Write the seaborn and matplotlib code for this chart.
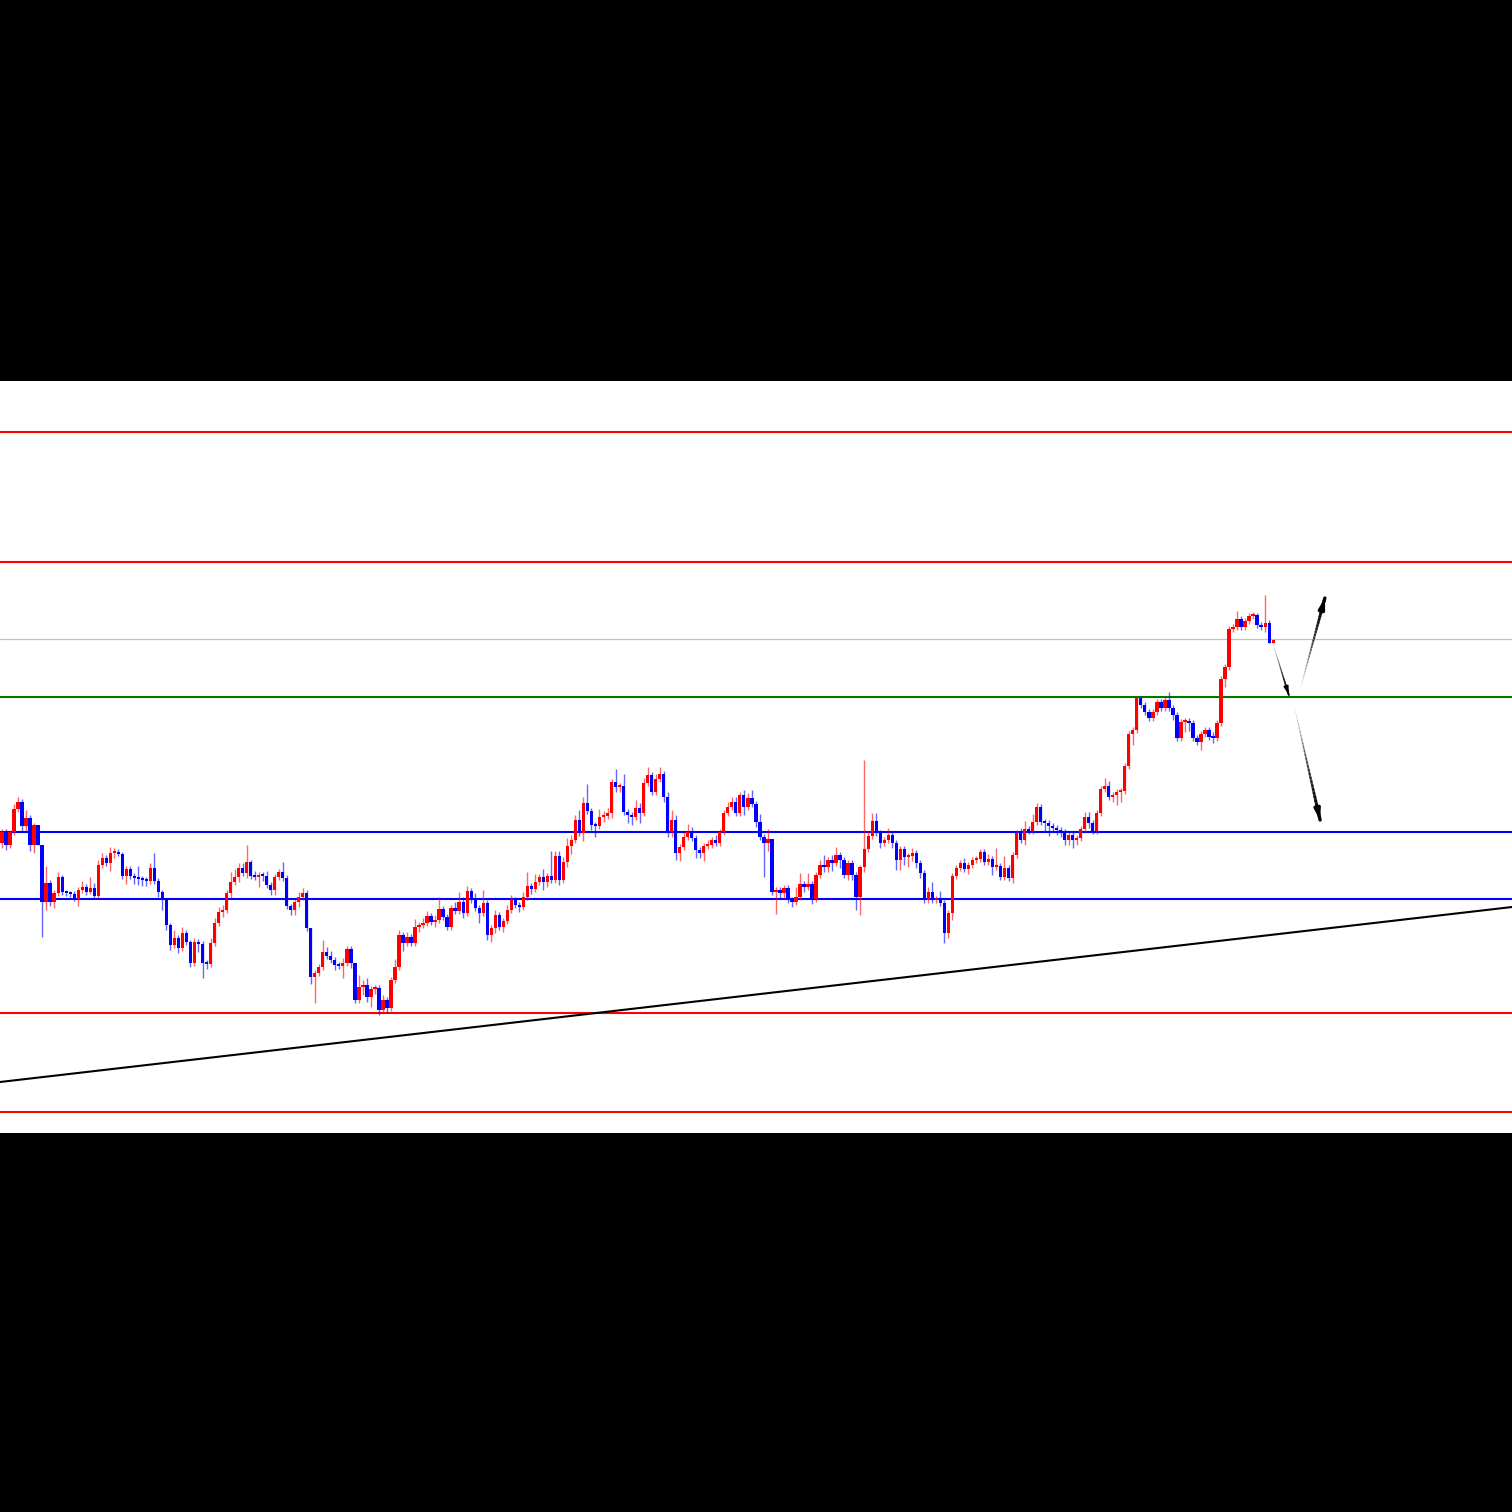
import numpy as np
import pandas as pd
import matplotlib
matplotlib.use("Agg")
import matplotlib.pyplot as plt
from matplotlib.collections import LineCollection
import seaborn as sns

# ---------------- data ----------------
first_open = 102.90
closes = [
    # segment A
    103.01, 102.88, 103.01, 103.24, 103.31, 103.07, 103.15, 102.88, 103.08, 102.88,
    102.31, 102.50, 102.31, 102.40, 102.56, 102.41, 102.40, 102.39, 102.34, 102.43,
    102.46, 102.41, 102.45, 102.37, 102.68, 102.75, 102.70, 102.80, 102.81, 102.79,
    102.57, 102.64, 102.57, 102.55, 102.54, 102.53, 102.52, 102.65, 102.52, 102.41,
    102.33, 102.08, 101.88, 101.95, 101.85, 102.00, 101.91, 101.70, 101.91, 101.89,
    101.70, 101.69, 101.90, 102.10,
    # segment B
    102.21, 102.23, 102.40, 102.51, 102.56, 102.65, 102.60, 102.71, 102.57, 102.56,
    102.58, 102.57, 102.48, 102.43, 102.56, 102.61, 102.55, 102.27, 102.23, 102.31,
    102.36, 102.40, 102.05, 101.56, 101.60, 101.66, 101.81, 101.77, 101.73, 101.68,
    101.67, 101.70, 101.84, 101.70, 101.33, 101.46, 101.48, 101.36, 101.44, 101.45,
    101.23, 101.33, 101.25, 101.53, 101.66, 101.98, 101.90, 101.96, 101.90, 102.06,
    # segment C
    102.08, 102.10, 102.17, 102.11, 102.13, 102.24, 102.16, 102.06, 102.25, 102.22,
    102.31, 102.20, 102.42, 102.35, 102.25, 102.20, 102.30, 101.98, 102.05, 102.18,
    102.06, 102.12, 102.23, 102.33, 102.28, 102.26, 102.36, 102.47, 102.44, 102.51,
    102.56, 102.51, 102.57, 102.53, 102.77, 102.53, 102.71, 102.87, 102.93, 103.13,
    103.00, 103.30, 103.22, 103.08, 103.07, 103.16, 103.17, 103.20, 103.51, 103.46,
    103.47, 103.21, 103.18,
    # segment D
    103.16, 103.25, 103.20, 103.50, 103.58, 103.41, 103.54, 103.59, 103.36, 103.01,
    103.13, 102.80, 102.86, 102.96, 103.01, 102.95, 102.83, 102.80, 102.87, 102.88,
    102.93, 102.90, 103.01, 103.20, 103.26, 103.31, 103.20, 103.38, 103.26, 103.35,
    103.29, 103.11, 102.96, 102.90, 102.94, 102.41, 102.43, 102.40, 102.45, 102.33,
    102.31, 102.36, 102.49, 102.46, 102.49, 102.34, 102.58, 102.68, 102.66, 102.73,
    102.70, 102.78, 102.73,
    # segment E
    102.58, 102.70, 102.58, 102.36, 102.66, 102.84, 102.97, 103.12, 103.00, 102.90,
    102.93, 102.98, 102.90, 102.73, 102.84, 102.76, 102.77, 102.80, 102.70, 102.60,
    102.33, 102.41, 102.33, 102.34, 102.30, 102.00, 102.20, 102.57, 102.65, 102.70,
    102.64, 102.68, 102.73, 102.74, 102.81, 102.71, 102.74, 102.66, 102.67, 102.56,
    102.65, 102.55, 102.78, 103.00, 102.93, 103.04, 103.02, 103.11, 103.26, 103.11,
    103.10, 103.07,
    # segment F
    103.05, 103.03, 103.01, 102.93, 102.98, 102.93, 102.95, 103.04, 103.16, 103.10,
    103.02, 103.20, 103.44, 103.47, 103.36, 103.38, 103.41, 103.42, 103.67, 103.99,
    104.03, 104.35, 104.28, 104.21, 104.15, 104.21, 104.31, 104.25, 104.33, 104.25,
    104.18, 103.95, 104.11, 104.12, 104.10, 103.95, 103.91, 103.99, 104.03, 103.96,
    103.95, 104.10, 104.54, 104.66, 105.04, 105.06, 105.14, 105.06, 105.12, 105.17,
    105.18, 105.08, 105.06, 105.10, 104.90, 104.93,
]

# shadows (in pips, 0.01)
upper_shadow = [
    3,3,2,5,5,3,8,3,2,0, 0,17,3,3,5,2,2,2,3,3, 6,3,11,5,5,5,3,6,4,3,
    2,3,3,3,12,3,3,5,15,3, 2,0,2,8,3,6,3,2,4,3, 3,3,5,5,
    5,5,3,10,8,5,5,17,2,5, 3,3,5,3,3,3,10,3,2,3, 5,5,3,0,3,3,12,5,5,3,
    3,5,3,3,0,12,5,7,3,3, 3,5,3,3,8,5,3,5,3,8,
    3,5,5,3,5,12,3,3,3,6, 10,5,5,3,5,3,13,3,3,5, 3,3,5,5,3,3,5,14,3,8,
    3,8,3,25,5,5,5,8,5,5, 10,6,19,3,3,8,5,5,3,13, 3,12,3,
    3,8,5,5,8,3,5,7,3,5, 10,5,3,5,8,5,3,3,3,5, 3,5,3,3,5,5,5,3,5,5,
    8,3,8,3,10,0,3,3,3,3, 3,10,11,3,11,3,3,5,10,3, 5,8,3,
    3,3,3,3,2,89,5,8,8,3, 3,7,3,3,3,3,3,5,3,3, 3,5,10,3,8,3,3,3,3,3,
    5,3,3,3,3,3,5,3,18,3, 12,3,3,3,5,8,3,8,4,3, 3,3,
    3,3,3,3,3,3,3,3,5,5, 3,3,3,8,5,3,3,3,3,3, 3,1,2,3,3,3,3,3,3,8,
    3,3,3,3,3,3,3,3,3,3, 5,3,3,3,3,3,8,3,3,3, 3,2,3,28,3,0,
]
lower_shadow = [
    5,5,3,3,3,5,5,6,8,0, 35,8,4,6,3,3,3,3,2,7, 3,3,2,3,2,3,3,8,5,2,
    3,8,3,6,6,6,5,3,3,5, 10,5,5,3,5,3,3,4,3,8, 15,5,3,3,
    3,5,3,5,3,5,3,5,3,3, 10,5,3,5,5,3,3,3,5,5, 5,3,3,7,26,3,3,3,3,5,
    3,12,3,5,3,3,8,5,10,5, 5,3,5,3,3,3,8,3,3,3,
    5,3,3,3,5,3,3,3,3,3, 3,5,3,5,3,10,3,5,7,5, 3,5,3,3,3,5,3,3,5,3,
    3,8,5,3,3,5,3,5,8,3, 3,8,3,5,11,3,5,3,5,5, 5,3,8,
    8,3,10,3,3,3,3,3,5,5, 5,7,8,3,3,3,8,5,8,3, 3,3,3,3,3,3,3,3,8,3,
    3,5,3,34,8,3,22,5,5,3, 5,3,3,5,3,5,3,3,5,5, 8,3,8,
    3,5,5,13,18,5,3,3,3,5, 3,3,5,10,10,8,10,5,5,5, 3,3,3,3,3,10,5,7,3,3,
    3,5,3,3,3,3,3,8,3,3, 3,3,5,3,3,5,3,3,3,3, 9,10,
    3,5,5,5,5,8,5,3,3,5, 3,3,3,3,3,5,10,10,3,3, 11,3,3,3,3,3,3,3,3,3,
    5,3,3,10,8,3,3,8,3,3, 5,3,3,8,3,3,3,3,3,3, 3,3,3,5,0,0,
]

red_levels = [107.01, 105.71, 101.20, 100.21]
gray_level = [104.94]
green_level = [104.36]
blue_levels = [103.01, 102.34]
trend_x = [-0.5, 376.6]
trend_y = [100.51, 102.26]

# scenario arrows (x in bar index, y in price)
arrow_x0 = [316.9, 323.7, 322.2]
arrow_y0 = [104.90, 104.43, 104.28]
arrow_x1 = [320.9, 329.9, 328.7]
arrow_y1 = [104.38, 105.35, 103.13]
arrow_w = [1.4, 2.4, 2.4]
arrow_hl = [0.35, 0.45, 0.45]
arrow_hw = [0.10, 0.13, 0.13]

# ---------------- build frame ----------------
n = len(closes)
opens = [first_open] + closes[:-1]
df = pd.DataFrame({"idx": np.arange(n), "open": opens, "close": closes,
                   "up": np.array(upper_shadow[:n]) / 100.0,
                   "lo": np.array(lower_shadow[:n]) / 100.0})
df["top"] = df[["open", "close"]].max(axis=1)
df["bot"] = df[["open", "close"]].min(axis=1)
df["high"] = df["top"] + df["up"]
df["low"] = df["bot"] - df["lo"]
df["bull"] = df["close"] >= df["open"]

sns.set_theme(style="white")
fig = plt.figure(figsize=(15.12, 15.12), dpi=100, facecolor="black")
ax = fig.add_axes([0, 379 / 1512, 1, 752 / 1512])
ax.set_facecolor("white")

RED = "#ff0000"
BLUE = "#0000ff"
colors = np.where(df["bull"], RED, BLUE)

# horizontal levels
for lv in red_levels:
    ax.axhline(lv, color=RED, lw=1.5, zorder=1)
for lv in gray_level:
    ax.axhline(lv, color="#c0c0c0", lw=0.9, zorder=1)
for lv in green_level:
    ax.axhline(lv, color="#007800", lw=1.5, zorder=1)
for lv in blue_levels:
    ax.axhline(lv, color=BLUE, lw=1.5, zorder=1)

sns.lineplot(x=trend_x, y=trend_y, ax=ax, color="black", lw=1.5, zorder=2)

# wicks
ax.vlines(df["idx"], df["low"], df["high"], colors=colors, lw=1.0, alpha=0.6, zorder=3)
# bodies
heights = np.maximum(df["top"] - df["bot"], 0.015)
ax.bar(df["idx"], heights, bottom=df["bot"], width=0.82, color=colors,
       edgecolor="none", zorder=4)

# gradient arrows
for x0, y0, x1, y1, w, hl, hw in zip(arrow_x0, arrow_y0, arrow_x1, arrow_y1,
                                     arrow_w, arrow_hl, arrow_hw):
    k = 30
    t = np.linspace(0, 1, k + 1)
    xs = x0 + (x1 - x0) * t
    ys = y0 + (y1 - y0) * t
    segs = [[(xs[i], ys[i]), (xs[i + 1], ys[i + 1])] for i in range(k)]
    alphas = np.linspace(0.05, 1.0, k)
    cols = [(0, 0, 0, a) for a in alphas]
    widths = np.linspace(0.4, w, k)
    ax.add_collection(LineCollection(segs, colors=cols, linewidths=widths, zorder=5,
                                     capstyle="round"))
    ax.annotate("", xy=(x1, y1), xytext=(xs[-4], ys[-4]),
                arrowprops=dict(arrowstyle=f"-|>,head_length={hl},head_width={hw}",
                                color="black", lw=w, shrinkA=0, shrinkB=0),
                zorder=6)

ax.set_xlim(-0.5, 376.56)
ax.set_ylim(100.00, 107.52)
ax.set_xticks([])
ax.set_yticks([])
ax.set_xlabel("")
ax.set_ylabel("")
for s in ax.spines.values():
    s.set_visible(False)
if ax.get_legend() is not None:
    ax.get_legend().remove()

fig.savefig("out.png", dpi=100, facecolor="black")
